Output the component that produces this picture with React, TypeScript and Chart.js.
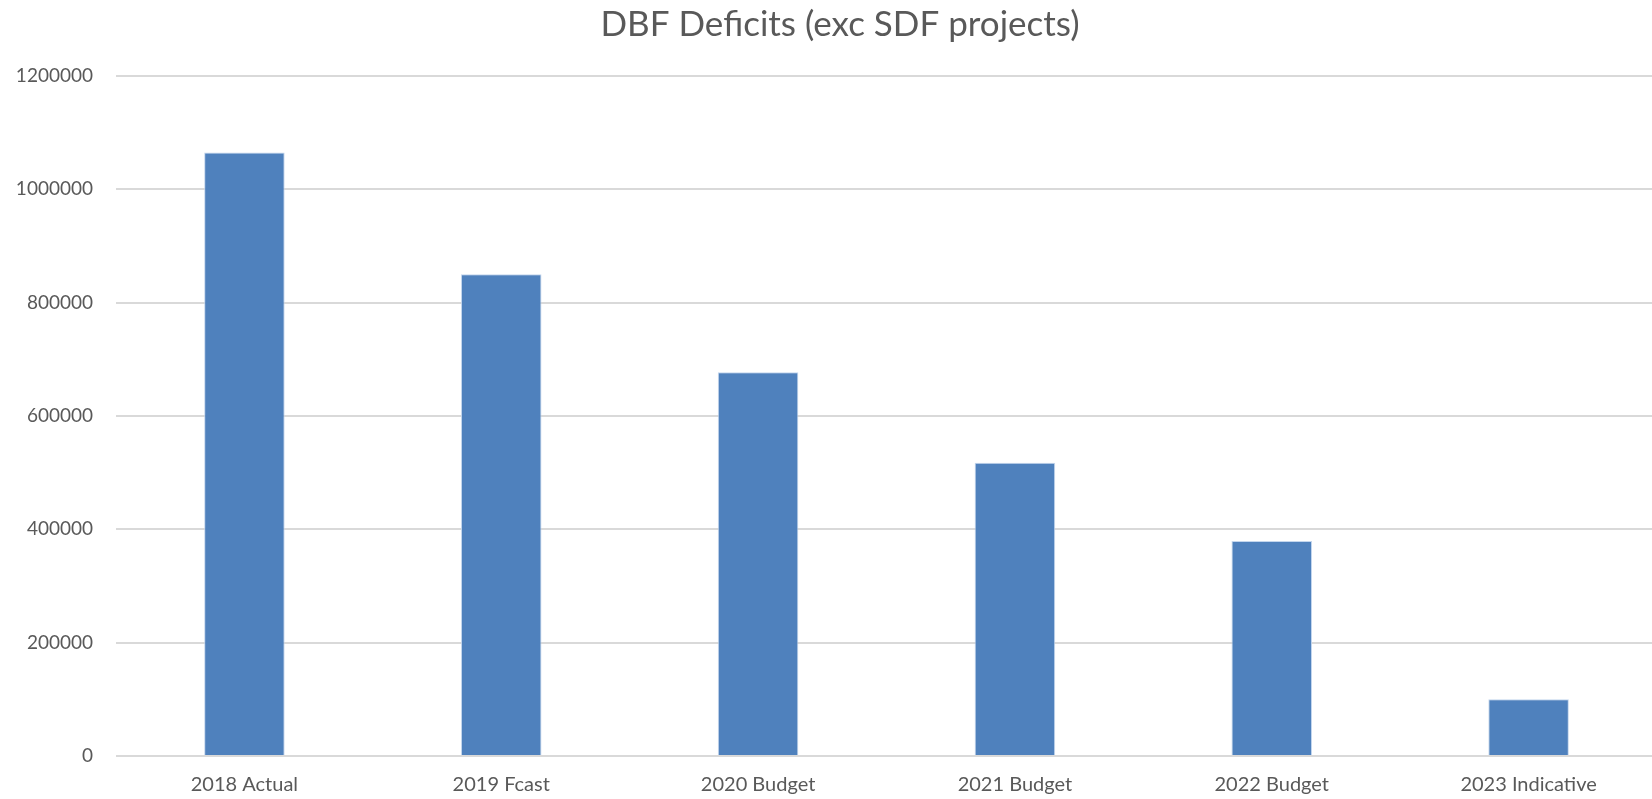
import React, { useEffect, useRef } from "react";
import { Chart, registerables } from "chart.js";

Chart.register(...registerables);

const titleText = "DBF Deficits (exc SDF projects)";
const categories = ["2018 Actual", "2019 Fcast", "2020 Budget", "2021 Budget", "2022 Budget", "2023 Indicative"];
const deficits = [1065000, 850000, 677000, 517500, 379500, 100000];
const yMin = 0;
const yMax = 1200000;
const yStep = 200000;

const TEXT = "#595959";
const FONT = "Lato, 'Open Sans', sans-serif";

export default function App() {
  const ref = useRef<HTMLCanvasElement | null>(null);

  useEffect(() => {
    if (!ref.current) return;
    const chart = new Chart(ref.current, {
      type: "bar",
      data: {
        labels: categories,
        datasets: [
          {
            label: "Deficit",
            data: deficits,
            backgroundColor: "#4F81BD",
            borderColor: "rgba(190,210,235,0.9)",
            borderWidth: 1,
            barPercentage: 1,
            categoryPercentage: 0.3135,
            yAxisID: "y",
          },
        ],
      },
      options: {
        responsive: false,
        animation: false,
        layout: { padding: 0 },
        plugins: {
          legend: { display: false },
          tooltip: { enabled: false },
          title: {
            display: true,
            text: titleText,
            color: TEXT,
            font: { family: FONT, size: 35, weight: "normal" },
            padding: { top: 4, bottom: 30 },
          },
        },
        scales: {
          x: {
            grid: { display: false },
            border: { display: false },
            ticks: {
              color: TEXT,
              font: { family: FONT, size: 20 },
              padding: 9,
              maxRotation: 0,
            },
            afterFit: (s: any) => {
              s.height = 43;
            },
          },
          y: {
            position: "left",
            min: yMin,
            max: yMax,
            border: { display: false },
            grid: { color: "#D9D9D9", lineWidth: 2, drawTicks: false },
            ticks: {
              stepSize: yStep,
              color: TEXT,
              font: { family: FONT, size: 19 },
              padding: 23,
              callback: (v: any) => String(v),
            },
            afterFit: (s: any) => {
              s.width = 116;
            },
          },
          yRight: {
            position: "right",
            min: yMin,
            max: yMax,
            border: { display: false },
            grid: { display: false, drawTicks: false },
            ticks: { display: false },
            afterFit: (s: any) => {
              s.width = 23;
            },
          },
        },
      },
    });
    return () => chart.destroy();
  }, []);

  return (
    <div style={{ position: "absolute", left: 0, top: 0, width: 1652, height: 799, overflow: "hidden", background: "#fff" }}>
      <canvas ref={ref} width={1680} height={799} style={{ width: 1680, height: 799, display: "block" }} />
    </div>
  );
}
